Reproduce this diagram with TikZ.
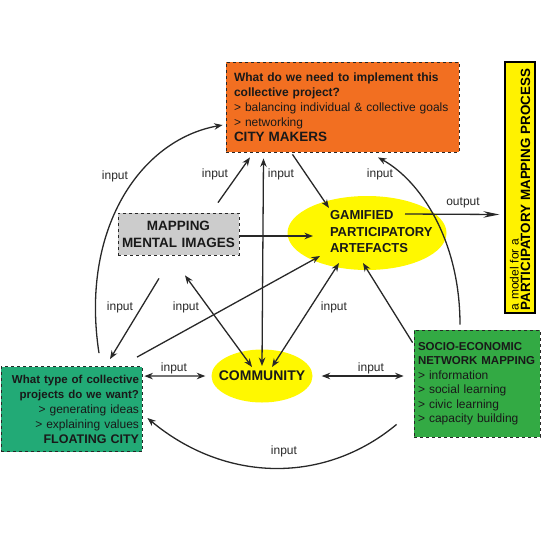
\documentclass[tikz,border=0pt]{standalone}
\usepackage{fontspec}
\setmainfont{Liberation Sans}
\usetikzlibrary{shapes,arrows.meta}
\definecolor{makersorange}{RGB}{242,111,33}
\definecolor{floatgreen}{RGB}{34,170,118}
\definecolor{socialgreen}{RGB}{51,170,68}
\definecolor{mapgray}{RGB}{204,204,204}
\definecolor{blobyellow}{RGB}{255,248,0}
\definecolor{ink}{RGB}{40,40,40}
\tikzset{basic/.style={rectangle,draw=ink,dashed,line width=0.8pt,text=black!90,inner ysep=0pt}}
\tikzset{question/.style={basic,font=\fontsize{12}{15}\selectfont}}
\tikzset{blob/.style={ellipse,fill=blobyellow,inner sep=0pt,text=black!90}}
\tikzset{arrow/.style={draw=ink,line width=1.3pt,>={Stealth[length=8.5pt,width=6.5pt]}}}
\tikzset{lbl/.style={inner sep=0pt,text=ink,font=\fontsize{12}{14}\selectfont}}

\begin{document}
\begin{tikzpicture}[x=1pt,y=-1pt]
    \useasboundingbox (0,0) rectangle (550,550);

    \node[question,fill=makersorange,text width=217pt,inner xsep=8pt,minimum height=90pt,align=left] (makers) at (342.5,107)
        {\textbf{What do we need to implement this}\\ \textbf{collective project?}\\ > balancing individual \& collective goals\\ > networking\\ \fontsize{13.5}{15}\selectfont\textbf{CITY MAKERS}};
    \node[question,fill=floatgreen,text width=135pt,inner xsep=3pt,minimum height=85pt,align=right] (floating) at (71.5,409)
        {{\fontsize{11.5}{15}\selectfont\textbf{What type of collective}}\\ {\fontsize{11.5}{15}\selectfont\textbf{projects do we want?}}\\ > generating ideas\\ > explaining values\\ \fontsize{12.5}{15}\selectfont\textbf{FLOATING CITY}};
    \node[question,fill=socialgreen,text width=118pt,inner xsep=4pt,minimum height=107pt,align=left,font=\fontsize{12}{14.5}\selectfont] (socio) at (477,383.5)
        {{\fontsize{11.5}{14.5}\selectfont\textbf{SOCIO-ECONOMIC}}\\ {\fontsize{11.5}{14.5}\selectfont\textbf{NETWORK MAPPING}}\\ > information\\ > social learning\\ > civic learning\\ > capacity building};
    \node[basic,fill=mapgray,text width=115pt,inner xsep=3pt,minimum height=42pt,align=center,font=\bfseries\fontsize{13.5}{17}\selectfont] (mapping) at (178.5,234)
        {MAPPING\\ MENTAL IMAGES};

    \node[blob,minimum width=159pt,minimum height=74pt,font=\bfseries\fontsize{13}{16.5}\selectfont] (gamified) at (367,233)
        {\makebox[74pt][l]{\begin{tabular}{@{}l@{}}GAMIFIED\\ PARTICIPATORY\\ ARTEFACTS\end{tabular}}};
    \node[blob,minimum width=101pt,minimum height=53pt,font=\bfseries\fontsize{14}{16}\selectfont] (community) at (262,376)
        {\makebox[60pt]{COMMUNITY}};

    \node[draw=black,line width=1.3pt,fill=yellow,rotate=90,minimum width=251pt,minimum height=30pt,text width=246pt,inner xsep=2.5pt,inner ysep=0pt,align=left,font=\fontsize{12}{11.5}\selectfont] (model) at (520,187.5)
        {a model for a\\ \bfseries\fontsize{13.4}{11.5}\selectfont PARTICIPATORY MAPPING PROCESS};

    \path[arrow,->] ([shift={(27.5,-13)}]floating.north) .. controls +(-19,-123) and +(-83,15) .. ([shift={(-3,18)}]makers.west);
    \path[arrow,->] ([shift={(39.5,-10)}]mapping.north) -- ([shift={(-92.5,5)}]makers.south);
    \path[arrow,<->] ([shift={(0,-10)}]community.center) -- ([shift={(-79,6)}]makers.south);
    \path[arrow,->] ([shift={(-50,2)}]makers.south) -- ([shift={(-38,-25)}]gamified.center);
    \path[arrow,->] ([shift={(-17,-5)}]socio.north) .. controls +(0,-85) and +(42,23) .. ([shift={(35.5,5)}]makers.south);
    \path[draw=ink,line width=1.3pt,-{Stealth[length=16pt,width=6.5pt]}] ([shift={(38,-19)}]gamified.center) -- ([shift={(-5,27)}]model.north);
    \path[arrow,->] ([shift={(1,2)}]mapping.east) -- ([shift={(-54,3)}]gamified.center);
    \path[arrow,->] ([shift={(-19.5,23)}]mapping.south) -- ([shift={(38.5,-7)}]floating.north);
    \path[arrow,<->] ([shift={(6.5,20)}]mapping.south) -- ([shift={(-10,-9)}]community.center);
    \path[arrow,->] ([shift={(65.5,-9)}]floating.north) -- ([shift={(-47,23)}]gamified.center);
    \path[arrow,<->] ([shift={(10,-9)}]community.center) -- ([shift={(-28,30)}]gamified.center);
    \path[arrow,->] ([shift={(-1,13)}]socio.north west) -- ([shift={(-4,30)}]gamified.center);
    \path[arrow,<->] ([shift={(2,10)}]floating.north east) -- ([shift={(-6,0)}]community.west);
    \path[arrow,<->] ([shift={(9,0)}]community.east) -- ([shift={(-10,-7.5)}]socio.west);
    \path[arrow,->] ([shift={(-17,-13)}]socio.south west) .. controls +(-72,60) and +(78,65) .. ([shift={(5,9)}]floating.east);

    \node[lbl] (in1) at (115,176) {input};
    \node[lbl] (in2) at (215,174) {input};
    \node[lbl] (in3) at (281,174) {input};
    \node[lbl] (in4) at (380,174) {input};
    \node[lbl] (in5) at (120,307) {input};
    \node[lbl] (in6) at (186,307) {input};
    \node[lbl] (in7) at (334,307) {input};
    \node[lbl] (in8) at (174,368) {input};
    \node[lbl] (in9) at (371,368) {input};
    \node[lbl] (in10) at (284,451) {input};
    \node[lbl] (out) at (463,203) {output};
\end{tikzpicture}
\end{document}
